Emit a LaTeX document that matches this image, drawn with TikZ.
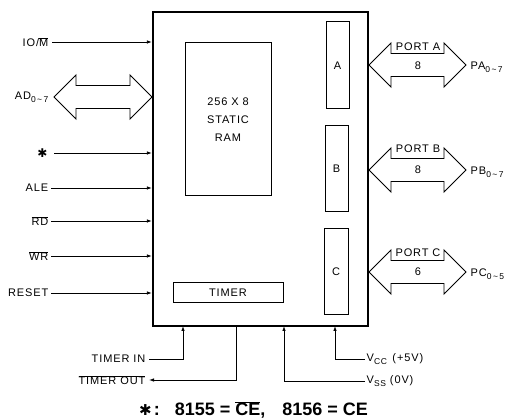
\documentclass[tikz,border=0pt]{standalone}
\usepackage{fontspec}
\setmainfont{Liberation Sans}
\newfontfamily\lblfont[LetterSpace=8]{Liberation Sans}
\newfontfamily\symfont{DejaVu Sans}
\usetikzlibrary{arrows.meta}
\newcommand\ovl[1]{$\overline{\mbox{#1}}$}
\newcommand\sbs[1]{\raisebox{-0.45ex}{\fontsize{8.5}{9}\selectfont #1}}
\newcommand\dbl[3]{%
  \draw[line width=0.9pt] (#1,#3) -- ++(22,-22) -- ++(0,10.5) -- ({#2-22},{#3-11.5}) -- ++(0,-10.5) -- (#2,#3)
  -- ({#2-22},{#3+22}) -- ++(0,-10.5) -- ({#1+22},{#3+11.5}) -- ++(0,10.5) -- cycle;}
\begin{document}
\begin{tikzpicture}[x=1pt,y=-1pt,
  sig/.style={draw, line width=0.8pt, -{Latex[length=5pt,width=3.5pt]}},
  lbl/.style={font=\lblfont\fontsize{11}{12}\selectfont, inner sep=1.5pt},
  blk/.style={draw, line width=1pt, inner sep=0pt, font=\lblfont\fontsize{11}{12}\selectfont},
  foot/.style={font=\fontsize{18}{20}\selectfont\bfseries, inner sep=0pt},
  starsym/.style={font=\symfont\fontsize{12}{12}\selectfont, inner sep=0pt}]
\useasboundingbox (0,0) rectangle (509,419);
% chip
\node[draw, line width=2.2pt, minimum width=215pt, minimum height=314pt, inner sep=0pt] (chip) at (260.5,169) {};
\node[blk, minimum width=86pt, minimum height=153pt, align=center] (ram) at (228,119.5)
  {256 X 8\\[6pt]STATIC\\[6pt]RAM};
\node[blk, minimum width=23pt, minimum height=87pt] (pa) at (337.5,65.5) {A};
\node[blk, minimum width=23pt, minimum height=86pt] (pb) at (336.5,169) {B};
\node[blk, minimum width=24pt, minimum height=86pt] (pc) at (336,272) {C};
\node[blk, minimum width=110pt, minimum height=20pt] (tmr) at (228,293) {TIMER};
% left signals
\node[lbl, anchor=east] (iom) at (50,42) {IO/\ovl{M}};
\node[lbl, anchor=east] (ad) at (50,97) {AD\sbs{0\,\textasciitilde\,7}};
\node[starsym] (star) at (42.5,153) {✱};
\coordinate (starc) at (54,153);
\node[lbl, anchor=east] (ale) at (50,188) {ALE};
\node[lbl, anchor=east] (rd) at (50,221) {\ovl{RD}};
\node[lbl, anchor=east] (wr) at (50,256) {\ovl{WR}};
\node[lbl, anchor=east] (rst) at (50,293) {RESET};
\draw[sig] ([xshift=2pt]iom.east) -- (iom.east -| chip.west);
\draw[sig] (starc) -- (starc -| chip.west);
\draw[sig] ([xshift=1pt]ale.east) -- (ale.east -| chip.west);
\draw[sig] ([xshift=1pt]rd.east) -- (rd.east -| chip.west);
\draw[sig] ([xshift=1pt]wr.east) -- (wr.east -| chip.west);
\draw[sig] ([xshift=1pt]rst.east) -- (rst.east -| chip.west);
\dbl{54}{152}{97}
% ports
\dbl{369}{466}{65}
\dbl{369}{466}{170}
\dbl{369}{466}{272}
\node[lbl] (pal) at (418,47) {PORT A};
\node[lbl] (pan) at (418,66) {8};
\node[lbl, anchor=west] (pax) at (469,67) {PA\sbs{0\,\textasciitilde\,7}};
\node[lbl] (pbl) at (418,149) {PORT B};
\node[lbl] (pbn) at (418,170) {8};
\node[lbl, anchor=west] (pbx) at (469,172) {PB\sbs{0\,\textasciitilde\,7}};
\node[lbl] (pcl) at (418,253) {PORT C};
\node[lbl] (pcn) at (418,272) {6};
\node[lbl, anchor=west] (pcx) at (469,274) {PC\sbs{0\,\textasciitilde\,5}};
% bottom
\coordinate (tinc) at (183,326);
\coordinate (toutc) at (236,326);
\coordinate (vccc) at (335,326);
\coordinate (vssc) at (284,326);
\node[lbl, anchor=east] (tin) at (147,359) {TIMER IN};
\node[lbl, anchor=east] (tout) at (147,380) {\ovl{TIMER OUT}};
\node[lbl, anchor=west] (vcc) at (365,359) {V\sbs{CC}\enspace(+5V)};
\node[lbl, anchor=west] (vss) at (365,381) {V\sbs{SS}\ (0V)};
\draw[sig] ([xshift=2pt]tin.east) -| (tinc);
\draw[sig] (toutc) |- ([xshift=2pt]tout.east);
\draw[sig] (vcc.west) -| (vccc);
\draw[sig] (vss.west) -| (vssc);
% footnote
\node[foot, anchor=base west] (fn) at (139,416) {{\symfont\mdseries\fontsize{15}{15}\selectfont ✱}\hspace{2pt}:\hspace{15pt}8155 = \ovl{CE},\hspace{17pt}8156 = CE};
\end{tikzpicture}
\end{document}
